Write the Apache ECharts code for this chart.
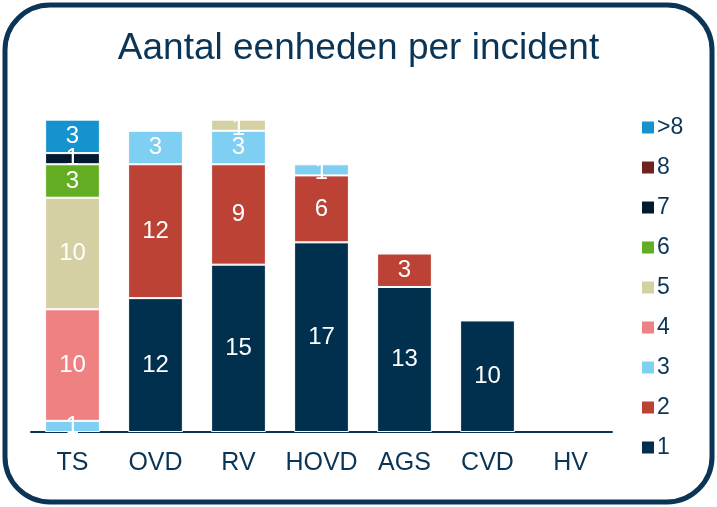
<!DOCTYPE html>
<html>
<head>
<meta charset="utf-8">
<script src="https://cdn.jsdelivr.net/npm/echarts@6/dist/echarts.min.js"></script>
<style>
  html, body { margin: 0; padding: 0; background: #fff; }
  #chart { width: 717px; height: 507px; }
</style>
</head>
<body>
<div id="chart"></div>
<script>
// categorieën en aantallen per groep (eenheden per incident)
const categories = ['TS', 'OVD', 'RV', 'HOVD', 'AGS', 'CVD', 'HV']
const seriesNames = ['1', '2', '3', '4', '5', '6', '7', '8', '>8']
const s1 = [null, 12, 15, 17, 13, 10, null]
const s2 = [null, 12, 9, 6, 3, null, null]
const s3 = [1, 3, 3, 1, null, null, null]
const s4 = [10, null, null, null, null, null, null]
const s5 = [10, null, 1, null, null, null, null]
const s6 = [3, null, null, null, null, null, null]
const s7 = [1, null, null, null, null, null, null]
const s8 = [null, null, null, null, null, null, null]
const s9 = [3, null, null, null, null, null, null]
const values = [s1, s2, s3, s4, s5, s6, s7, s8, s9]
const colors = ['#00304e', '#bc4235', '#7fcff2', '#ef8182', '#d5cfa4', '#63ad22', '#021a2e', '#6e2220', '#1493cf']

const navy = '#0b3556'
const font = 'Liberation Sans, Arial, sans-serif'

// labels apart tekenen zodat ze boven alle staven liggen (midden van elk segment)
function labelPoints(i) {
  const pts = []
  categories.forEach((c, j) => {
    const v = values[i][j]
    if (!v) return
    let base = 0
    for (let k = 0; k < i; k++) base += values[k][j] || 0
    let isTop = true
    for (let k = i + 1; k < values.length; k++) if (values[k][j]) isTop = false
    // kleine bovenste segmenten: label iets omlaag, zoals in het origineel
    const item = { value: [c, base + v / 2, v] }
    if (isTop && v === 1) item.label = { offset: [0, 3] }
    pts.push(item)
  })
  return pts
}

const barSeries = seriesNames.map((name, i) => ({
  name,
  type: 'bar',
  stack: 'total',
  barWidth: '66%',
  data: values[i],
  itemStyle: { color: colors[i], borderColor: '#fff', borderWidth: 1 },
}))

const labelSeries = seriesNames.map((name, i) => ({
  name: 'label-' + name,
  type: 'scatter',
  symbolSize: 0,
  z: 10,
  silent: true,
  itemStyle: { opacity: 1 },
  data: labelPoints(i),
  label: {
    show: true,
    position: 'inside',
    color: '#ffffff',
    opacity: 1,
    fontSize: 24,
    fontFamily: font,
    formatter: p => p.value[2],
  },
}))

const myChart = echarts.init(document.querySelector('#chart'))
const option = {
  animation: false,
  title: {
    text: 'Aantal eenheden per incident',
    left: 'center',
    top: 25,
    textStyle: { color: navy, fontSize: 37, fontWeight: 'normal', fontFamily: font },
  },
  grid: { left: 31, right: 105, top: 75, bottom: 75 },
  legend: {
    orient: 'vertical',
    left: 635,
    top: 111,
    height: 380,
    itemWidth: 14,
    itemHeight: 14,
    itemGap: 17,
    icon: 'rect',
    data: seriesNames.slice().reverse(),
    textStyle: { color: navy, fontSize: 23, lineHeight: 23, fontFamily: font, padding: [0, 0, 0, -3] },
  },
  xAxis: {
    type: 'category',
    data: categories,
    axisLine: { lineStyle: { color: navy, width: 2 } },
    axisTick: { show: false },
    axisLabel: { color: navy, fontSize: 25, fontFamily: font, margin: 19, interval: 0 },
  },
  yAxis: {
    type: 'value',
    min: 0,
    max: 32,
    show: false,
    splitLine: { show: false },
  },
  series: barSeries.concat(labelSeries),
  graphic: [
    {
      type: 'rect',
      shape: { x: 5, y: 5, width: 707, height: 497, r: 45 },
      style: { fill: 'none', stroke: navy, lineWidth: 5 },
      silent: true,
    },
  ],
}
myChart.setOption(option)
</script>
</body>
</html>
